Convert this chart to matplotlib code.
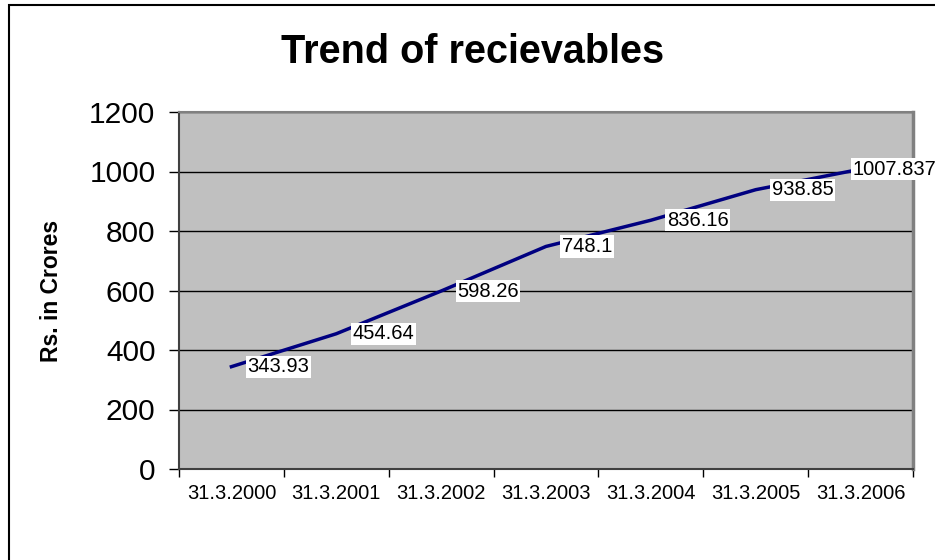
import matplotlib
matplotlib.use("Agg")
import matplotlib.pyplot as plt
from matplotlib.patches import Rectangle

# data
dates = ['31.3.2000', '31.3.2001', '31.3.2002', '31.3.2003',
         '31.3.2004', '31.3.2005', '31.3.2006']
receivables = [343.93, 454.64, 598.26, 748.1, 836.16, 938.85, 1007.837]
value_labels = ['343.93', '454.64', '598.26', '748.1', '836.16', '938.85', '1007.837']

plt.rcParams['font.family'] = ['Liberation Sans', 'DejaVu Sans']

fig = plt.figure(figsize=(9.35, 5.6), dpi=100)
ax = fig.add_axes([179 / 935, 1 - 469 / 560, (913 - 179) / 935, (469 - 112) / 560])

# outer chart border (runs off the right/bottom edge like the source)
fig.patches.append(Rectangle((9 / 935, -0.1), 1.2, 1.1 - 5 / 560, transform=fig.transFigure,
                             fill=False, edgecolor='black', linewidth=1.5, zorder=0))

ax.set_facecolor('#C0C0C0')
x = list(range(len(dates)))
ax.plot(x, receivables, color='#000080', linewidth=2.5, zorder=3)

# data labels sit to the right of each point, last one pulled back inside
for i, (v, lab) in enumerate(zip(receivables, value_labels)):
    off = 11.5 if i < len(dates) - 1 else -6
    ax.annotate(lab, (i, v), xytext=(off, 0), textcoords='offset points',
                ha='left', va='center', fontsize=14.5, color='black',
                bbox=dict(facecolor='white', edgecolor='none', pad=1.2),
                zorder=4, annotation_clip=False)

ax.set_xlim(-0.5, len(dates) - 0.5)
ax.set_ylim(0, 1200)
ax.set_yticks(range(0, 1201, 200))
ax.set_xticks([i - 0.5 for i in range(len(dates) + 1)])
ax.set_xticklabels([])
ax.set_xticks(x, minor=True)
ax.set_xticklabels(dates, minor=True, fontsize=14.5)
ax.tick_params(axis='x', which='major', length=6, width=1, direction='out', color='black')
ax.tick_params(axis='x', which='minor', length=0, pad=11)
ax.tick_params(axis='y', length=7, width=1, direction='out', pad=10, labelsize=21.5, color='black')

ax.yaxis.grid(True, color='black', linewidth=1)
ax.set_axisbelow(True)
for s in ax.spines.values():
    s.set_color('#808080')
    s.set_linewidth(1.5)
ax.spines['left'].set_color('#404040')
ax.spines['bottom'].set_color('#404040')
ax.spines['right'].set_linewidth(2.5)

ax.set_ylabel('Rs. in Crores', fontsize=16.5, fontweight='bold')
ax.yaxis.set_label_coords(-0.158, 0.5)

fig.text(0.505, 1 - 52 / 560, 'Trend of recievables', ha='center', va='center',
         fontsize=28.5, fontweight='bold')

fig.savefig('out.png', dpi=100, facecolor='white')
